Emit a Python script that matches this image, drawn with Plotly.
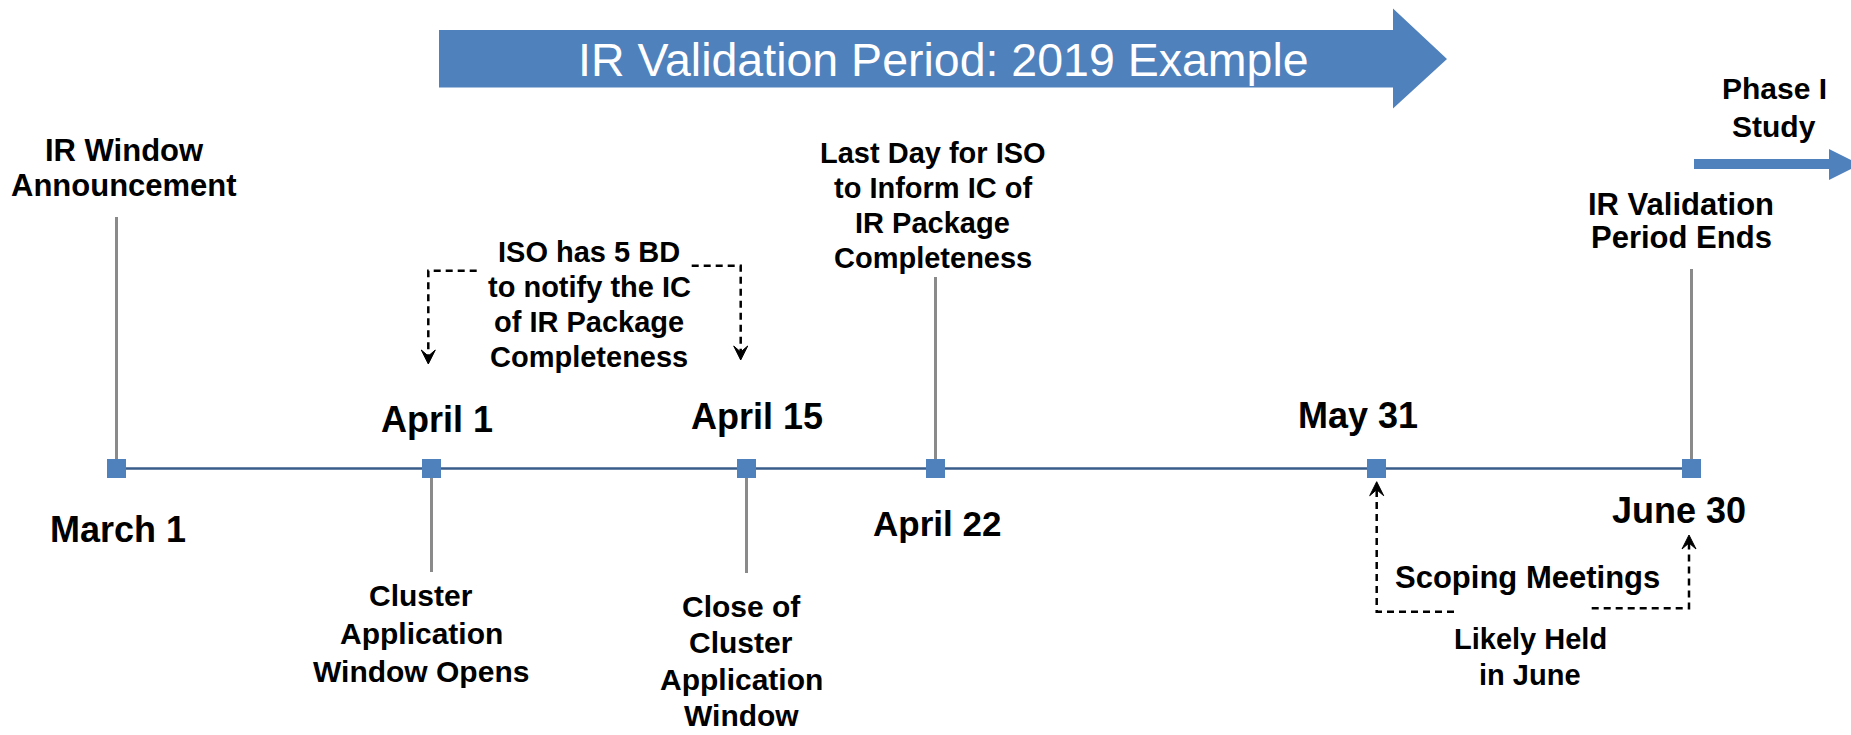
import plotly.graph_objects as go

# ------------------------------------------------------------------ data
dates = ["March 1", "April 1", "April 15", "April 22", "May 31", "June 30"]
slot = [0, 2, 4, 5.2, 8, 10]  # slot of each milestone along the timeline

label_announce = ["IR Window", "Announcement"]
label_opens = ["Cluster", "Application", "Window Opens"]
label_close = ["Close of", "Cluster", "Application", "Window"]
label_lastday = ["Last Day for ISO", "to Inform IC of", "IR Package", "Completeness"]
label_ends = ["IR Validation", "Period Ends"]
label_iso = ["ISO has 5 BD", "to notify the IC", "of IR Package", "Completeness"]
label_phase = ["Phase I", "Study"]
label_scoping = ["Scoping Meetings"]
label_likely = ["Likely Held", "in June"]
banner_text = "IR Validation Period: 2019 Example"

# ------------------------------------------------------------------ layout constants
W, H = 1851, 735
ORIGIN_PX, SLOT_PX = 116.5, 157.5
TL_Y = 468.5
FONT = "Liberation Sans, Arial, sans-serif"
BLUE = "#4F81BD"
DARK = "#385D8A"
GRAY = "#8A8A8A"

# stem end (pixel y) for each milestone; None = no stem
stem_end = [217, 572, 573, 277, None, 269]
# date label offsets (px) and baselines
date_dx = [1, 5, 10, 1, -19, -13]
date_base = [541.7, 431.7, 428.7, 535.5, 428.3, 522.7]
date_fs = [36, 36, 36, 35, 36, 36]

fig = go.Figure()

# stems
sx, sy = [], []
for s, e in zip(slot, stem_end):
    if e is None:
        continue
    sx += [s, s, None]
    sy += [e, TL_Y, None]
fig.add_trace(go.Scatter(x=sx, y=sy, mode="lines", line=dict(color=GRAY, width=3),
                         hoverinfo="skip", showlegend=False))

# timeline with milestone markers
fig.add_trace(go.Scatter(x=slot, y=[TL_Y] * len(slot), mode="lines+markers",
                         line=dict(color=DARK, width=2.5),
                         marker=dict(symbol="square", size=19, color=BLUE, line=dict(width=0)),
                         hoverinfo="skip", showlegend=False))

# invisible helper trace on pixel x axis
fig.add_trace(go.Scatter(x=[0, W], y=[0, H], xaxis="x2", yaxis="y", mode="markers",
                         marker=dict(opacity=0), hoverinfo="skip", showlegend=False))

# date labels
for s, d, dx, b, fs in zip(slot, dates, date_dx, date_base, date_fs):
    fig.add_annotation(x=s, y=b - 0.35 * fs, xref="x", yref="y", xshift=dx,
                       text=f"<b>{d}</b>", showarrow=False, xanchor="center", yanchor="middle",
                       font=dict(family=FONT, size=fs, color="black"))


def add_lines(lines, xc, base0, step, fs, color="black", bold=True):
    for i, ln in enumerate(lines):
        fig.add_annotation(x=xc, y=base0 + i * step - 0.35 * fs, xref="x2", yref="y",
                           text=f"<b>{ln}</b>" if bold else ln, showarrow=False,
                           xanchor="center", yanchor="middle",
                           font=dict(family=FONT, size=fs, color=color))


add_lines(label_announce, 124, 161.7, 34.3, 31)
add_lines(label_opens, 421, 605.7, 38.3, 30)
add_lines(label_close, 741, 616.5, 36.5, 30)
add_lines(label_lastday, 932.5, 163.3, 34.8, 29)
add_lines(label_ends, 1681, 215, 33.3, 31)
add_lines(label_iso, 589, 261.7, 35.0, 29)
add_lines(label_phase, 1774, 99.3, 37.4, 30)
add_lines(label_scoping, 1527, 588.3, 0, 31)
add_lines(label_likely, 1530, 649.3, 35.7, 29)

# banner arrow
shapes = []
shapes.append(dict(type="path", xref="x2", yref="y",
                   path="M 439 30 L 1393 30 L 1393 8.5 L 1447 59 L 1393 108.5 L 1393 87.5 L 439 87.5 Z",
                   fillcolor=BLUE, line=dict(width=0), layer="below"))
fig.add_annotation(x=943, y=76.7 - 0.35 * 46.5, xref="x2", yref="y", text=banner_text,
                   showarrow=False, xanchor="center", yanchor="middle",
                   font=dict(family=FONT, size=46.5, color="white"))

# Phase I arrow
shapes.append(dict(type="path", xref="x2", yref="y",
                   path="M 1694 159 L 1829 159 L 1829 149 L 1860 164.5 L 1829 180 L 1829 169 L 1694 169 Z",
                   fillcolor=BLUE, line=dict(width=0)))

# dashed elbow connectors
DASH = dict(color="black", width=2.5, dash="7px,5px")
for p in ["M 476.7 270.7 L 428.3 270.7 L 428.3 356",
          "M 691.7 265.7 L 740.7 265.7 L 740.7 352",
          "M 1454 611.7 L 1376.7 611.7 L 1376.7 490",
          "M 1591.7 608.3 L 1689 608.3 L 1689 543"]:
    shapes.append(dict(type="path", xref="x2", yref="y", path=p, line=DASH))


def head(x, y, up):
    s = -1 if up else 1
    return (f"M {x} {y} L {x-7} {y - s*14} L {x} {y - s*8} L {x+7} {y - s*14} Z")


for (x, y, up) in [(428.3, 364, False), (740.7, 360, False), (1376.7, 481.7, True), (1689, 535, True)]:
    shapes.append(dict(type="path", xref="x2", yref="y", path=head(x, y, up),
                       fillcolor="black", line=dict(color="black", width=1)))

fig.update_layout(
    shapes=shapes,
    width=W, height=H,
    margin=dict(l=0, r=0, t=0, b=0),
    paper_bgcolor="white", plot_bgcolor="white",
    showlegend=False,
    xaxis=dict(range=[(0 - ORIGIN_PX) / SLOT_PX, (W - ORIGIN_PX) / SLOT_PX], visible=False,
               showgrid=False, zeroline=False, fixedrange=True),
    xaxis2=dict(range=[0, W], overlaying="x", visible=False, showgrid=False, zeroline=False,
                fixedrange=True),
    yaxis=dict(range=[H, 0], visible=False, showgrid=False, zeroline=False, fixedrange=True),
)

fig.write_html("out.html", config={"displayModeBar": False},
               post_script="document.body.style.margin='0';document.body.style.overflow='hidden';")
